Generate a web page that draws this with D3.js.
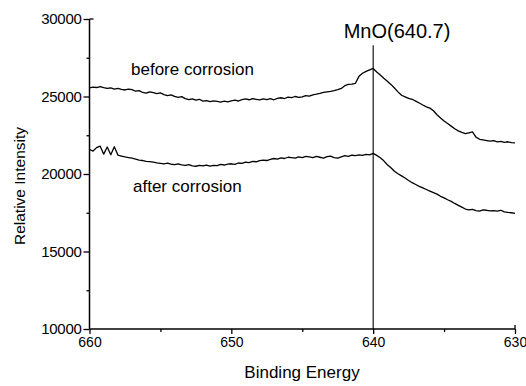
<!DOCTYPE html>
<html>
<head>
<meta charset="utf-8">
<script src="https://cdn.jsdelivr.net/npm/d3@7/dist/d3.min.js"></script>
<style>
  html, body { margin: 0; padding: 0; background: #fff; }
  svg { display: block; }
  text { font-family: "Liberation Sans", Arial, sans-serif; fill: #000; }
</style>
</head>
<body>
<svg id="chart" width="526" height="386"></svg>
<script>
// ---- data ----
const energy = [
  660,659.75,659.5,659.25, 659,658.75,658.5,658.25, 658,657.75,657.5,657.25, 657,656.75,656.5,656.25,
  656,655.75,655.5,655.25, 655,654.75,654.5,654.25, 654,653.75,653.5,653.25, 653,652.75,652.5,652.25,
  652,651.75,651.5,651.25, 651,650.75,650.5,650.25, 650,649.75,649.5,649.25, 649,648.75,648.5,648.25,
  648,647.75,647.5,647.25, 647,646.75,646.5,646.25, 646,645.75,645.5,645.25, 645,644.75,644.5,644.25,
  644,643.75,643.5,643.25, 643,642.75,642.5,642.25, 642,641.75,641.5,641.25, 641,640.75,640.5,640.25,
  640,639.75,639.5,639.25, 639,638.75,638.5,638.25, 638,637.75,637.5,637.25, 637,636.75,636.5,636.25,
  636,635.75,635.5,635.25, 635,634.75,634.5,634.25, 634,633.75,633.5,633.25, 633,632.75,632.5,632.25,
  632,631.75,631.5,631.25, 631,630.75,630.5,630.25, 630
];
const before = [
  25550,25600,25580,25640, 25570,25520,25560,25480, 25530,25460,25420,25480, 25440,25340,25380,25260,
  25220,25300,25250,25180, 25230,25120,25060,25100, 25010,24950,24990,24860, 24800,24840,24770,24820,
  24700,24740,24670,24720, 24690,24640,24700,24660, 24720,24760,24710,24800, 24840,24790,24860,24820,
  24780,24850,24800,24860, 24790,24880,24920,24870, 24960,24930,25000,24940, 24980,25060,25020,25110,
  25150,25200,25260,25300, 25330,25380,25440,25520, 25700,25780,25800,25850, 26300,26500,26620,26720,
  26810,26580,26380,26180, 25990,25780,25550,25300, 25080,24980,24880,24820, 24700,24580,24450,24330,
  24250,24080,23820,23620, 23420,23260,23090,22920, 22780,22680,22600,22660, 22720,22380,22240,22200,
  22160,22120,22150,22070, 22100,22040,22080,22020, 22010
];
const after = [
  21580,21480,21700,21800, 21280,21740,21240,21760, 21220,21160,21100,21060, 21020,20960,20900,20870,
  20820,20800,20760,20720, 20690,20660,20700,20630, 20610,20650,20590,20560, 20610,20530,20500,20560,
  20520,20580,20510,20560, 20540,20620,20580,20640, 20660,20620,20710,20680, 20770,20740,20820,20790,
  20860,20900,20870,20950, 21000,20960,21040,21000, 21080,21050,21020,21100, 21060,21140,21100,21050,
  21130,21080,21030,21120, 21150,21060,21020,21100, 21180,21140,21210,21180, 21240,21200,21260,21240,
  21330,21200,21050,20850, 20600,20400,20180,20020, 19880,19740,19580,19440, 19320,19200,19100,19000,
  18900,18800,18700,18560, 18460,18340,18230,18100, 17980,17860,17740,17680, 17720,17640,17600,17680,
  17660,17620,17640,17600, 17660,17560,17520,17500, 17460
];

const xTicks = [660, 650, 640, 630];
const xMinor = [655, 645, 635];
const yTicks = [10000, 15000, 20000, 25000, 30000];
const yMinor = [12500, 17500, 22500, 27500];
const peakEnergy = 640;
const peakLabel = "MnO(640.7)";
const markerTop = 28300;

// ---- layout ----
const svg = d3.select("#chart");
const x = d3.scaleLinear().domain([660, 630]).range([89.5, 515]);
const y = d3.scaleLinear().domain([10000, 30000]).range([329, 19]);

const g = svg.append("g");

// axes
const xAxis = d3.axisBottom(x).tickValues(xTicks).tickSize(5).tickPadding(3).tickFormat(d3.format("d"));
const gx = g.append("g").attr("transform", "translate(0,329)").call(xAxis);
const xMinorAxis = d3.axisBottom(x).tickValues(xMinor).tickSize(3).tickFormat("");
const gxm = g.append("g").attr("transform", "translate(0,329)").call(xMinorAxis);

const yAxis = d3.axisLeft(y).tickValues(yTicks).tickSize(6).tickPadding(2).tickFormat(d3.format("d"));
const gy = g.append("g").attr("transform", "translate(89.5,0)").call(yAxis);
const yMinorAxis = d3.axisLeft(y).tickValues(yMinor).tickSize(3).tickFormat("");
const gym = g.append("g").attr("transform", "translate(89.5,0)").call(yMinorAxis);

[gx, gxm, gy, gym].forEach(a => {
  a.select(".domain").attr("stroke", "#000").attr("stroke-width", 1.5);
  a.selectAll(".tick line").attr("stroke", "#000").attr("stroke-width", 1.3);
});
gx.selectAll(".domain").attr("d", `M${x(660)},0H${x(630)}`);
gy.selectAll(".domain").attr("d", `M0,${y(10000)}V${y(30000)}`);
gxm.select(".domain").remove();
gym.select(".domain").remove();
gx.selectAll(".tick text").attr("font-size", 14).attr("font-family", "Liberation Sans, Arial, sans-serif").attr("fill", "#000");
gy.selectAll(".tick text").attr("font-size", 15).attr("font-family", "Liberation Sans, Arial, sans-serif").attr("fill", "#000").attr("letter-spacing", -0.3);

// little end caps (top of y-axis, right end of x-axis)
g.append("line").attr("x1", x(660)).attr("x2", x(660) + 4).attr("y1", y(30000)).attr("y2", y(30000)).attr("stroke", "#000").attr("stroke-width", 1.3);
g.append("line").attr("x1", x(630)).attr("x2", x(630)).attr("y1", y(10000)).attr("y2", y(10000) - 4).attr("stroke", "#000").attr("stroke-width", 1.3);

// vertical marker
g.append("line")
  .attr("x1", x(peakEnergy)).attr("x2", x(peakEnergy))
  .attr("y1", y(markerTop)).attr("y2", y(10000))
  .attr("stroke", "#000").attr("stroke-width", 1.1);

// curves
const line = d3.line().x(d => x(d[0])).y(d => y(d[1])).curve(d3.curveLinear);
g.append("path").datum(energy.map((e, i) => [e, before[i]]))
  .attr("d", line).attr("fill", "none").attr("stroke", "#000").attr("stroke-width", 1.3).attr("stroke-linejoin", "round");
g.append("path").datum(energy.map((e, i) => [e, after[i]]))
  .attr("d", line).attr("fill", "none").attr("stroke", "#000").attr("stroke-width", 1.3).attr("stroke-linejoin", "round");

// labels
g.append("text").attr("x", 397).attr("y", 38).attr("text-anchor", "middle").attr("font-size", 20).text(peakLabel);
g.append("text").attr("x", 131).attr("y", 75).attr("font-size", 17).text("before corrosion");
g.append("text").attr("x", 133).attr("y", 192).attr("font-size", 17).text("after corrosion");
g.append("text").attr("x", 302).attr("y", 378).attr("text-anchor", "middle").attr("font-size", 17).text("Binding Energy");
g.append("text").attr("transform", "translate(25,186) rotate(-90)").attr("text-anchor", "middle").attr("font-size", 15.5).text("Relative Intensity");
</script>
</body>
</html>
